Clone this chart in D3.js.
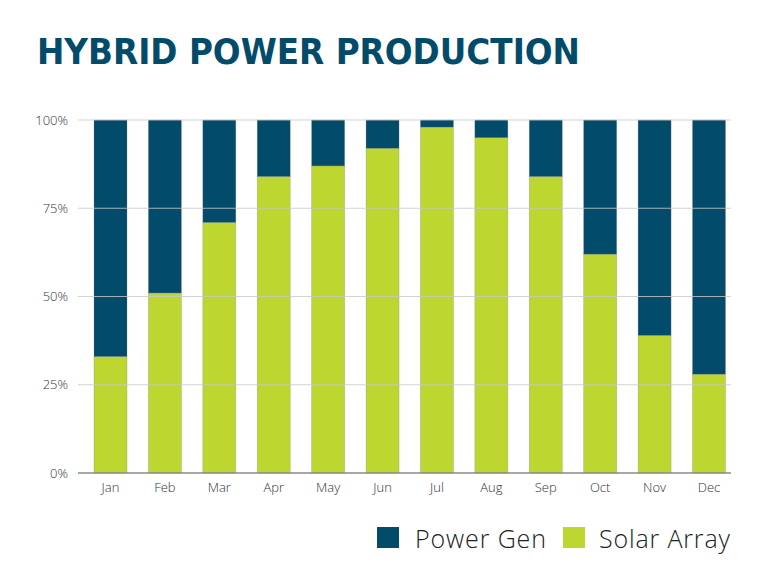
<!DOCTYPE html>
<html>
<head>
<meta charset="utf-8">
<script src="https://cdn.jsdelivr.net/npm/d3@7"></script>
<style>
  body { margin: 0; background: #fff; }
</style>
</head>
<body>
<script>
// data
const months = ["Jan", "Feb", "Mar", "Apr", "May", "Jun", "Jul", "Aug", "Sep", "Oct", "Nov", "Dec"]
const solar = [33, 51, 71, 84, 87, 92, 98, 95, 84, 62, 39, 28]
const powerGen = solar.map(v => 100 - v)
const yTicks = [0, 25, 50, 75, 100]
const seriesNames = ["Power Gen", "Solar Array"]

const blue = "#034b6a"
const green = "#bed630"

let w = 776, h = 581
let svg = d3.select("body").append("svg").attr("width", w).attr("height", h)

// title
svg.append("text")
    .attr("x", 37).attr("y", 64)
    .attr("textLength", 543)
    .attr("lengthAdjust", "spacingAndGlyphs")
    .style("font-family", "'DejaVu Sans Condensed', 'DejaVu Sans'")
    .style("font-weight", "bold")
    .style("font-size", "36px")
    .style("fill", blue)
    .text("HYBRID POWER PRODUCTION")

// band centres: Jan ~110.5, Dec ~709
let x = d3.scaleBand().domain(months).range([83.3, 736.2]).padding(0)
let y = d3.scaleLinear().domain([0, 100]).range([473, 120])
let bw = 33

let rows = months.map((m, i) => ({ month: m, solar: solar[i], gen: powerGen[i] }))
let stack = d3.stack().keys(["solar", "gen"])(rows)
let colors = { solar: green, gen: blue }

// bars
svg.append("g").selectAll("g")
    .data(stack)
    .enter().append("g")
    .style("fill", d => colors[d.key])
    .selectAll("rect")
    .data(d => d)
    .enter().append("rect")
        .attr("x", d => x(d.data.month) + x.bandwidth() / 2 - bw / 2)
        .attr("width", bw)
        .attr("y", d => y(d[1]))
        .attr("height", d => y(d[0]) - y(d[1]))
        .style("stroke", "rgba(120,130,130,0.45)")
        .style("stroke-width", 0.6)

// gridlines (drawn over bars, light)
svg.append("g").selectAll("line")
    .data(yTicks.filter(t => t > 0))
    .enter().append("line")
        .attr("x1", 78).attr("x2", 731)
        .attr("y1", d => y(d)).attr("y2", d => y(d))
        .style("stroke", "#c8c8c8")
        .style("stroke-opacity", 0.8)
        .style("stroke-width", 1)

// baseline
svg.append("line")
    .attr("x1", 78).attr("x2", 731)
    .attr("y1", y(0)).attr("y2", y(0))
    .style("stroke", "#8a8a8a")
    .style("stroke-width", 1.5)

// y labels
svg.append("g").selectAll("text")
    .data(yTicks)
    .enter().append("text")
        .attr("x", 68)
        .attr("y", d => y(d) + 4.5)
        .attr("text-anchor", "end")
        .style("font-family", "'Open Sans', Lato, sans-serif")
        .style("font-weight", 300)
        .style("font-size", "13px")
        .style("fill", "#333")
        .text(d => d + "%")

// x labels
svg.append("g").selectAll("text")
    .data(months)
    .enter().append("text")
        .attr("x", d => x(d) + x.bandwidth() / 2)
        .attr("y", 492)
        .attr("text-anchor", "middle")
        .style("font-family", "'Open Sans', Lato, sans-serif")
        .style("font-weight", 300)
        .style("font-size", "13px")
        .style("fill", "#333")
        .text(d => d)

// legend
let legend = [
    { name: seriesNames[0], color: blue, sx: 377, tx: 415, len: 131 },
    { name: seriesNames[1], color: green, sx: 563, tx: 599, len: 131 }
]
let lg = svg.append("g").selectAll("g").data(legend).enter().append("g")
lg.append("rect")
    .attr("x", d => d.sx).attr("y", 527)
    .attr("width", 22).attr("height", 21)
    .style("fill", d => d.color)
lg.append("text")
    .attr("x", d => d.tx).attr("y", 548)
    .attr("textLength", d => d.len)
    .style("font-family", "'Open Sans', Lato, sans-serif")
    .style("font-weight", 300)
    .style("font-size", "25px")
    .style("fill", "#222")
    .text(d => d.name)
</script>
</body>
</html>
